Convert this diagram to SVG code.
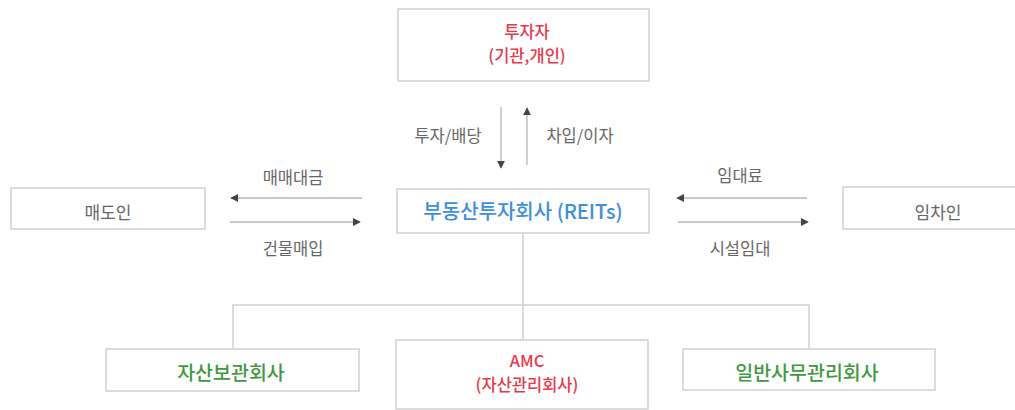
<svg xmlns="http://www.w3.org/2000/svg" width="1015" height="410" viewBox="0 0 1015 410">
  <style>
    .box { fill: #ffffff; stroke: #cfcfcf; stroke-width: 1.5; }
    .t { font-family: "Noto Sans CJK KR", "Noto Sans", sans-serif; text-anchor: middle; dominant-baseline: central; }
    .red { fill: #e8394c; font-size: 16.5px; font-weight: 500; }
    .blue { fill: #3d8fdc; font-size: 20px; font-weight: 500; }
    .green { fill: #3f9a3f; font-size: 19.5px; font-weight: 500; }
    .gray { fill: #666666; font-size: 17px; }
    .lbl { fill: #666666; font-size: 16.5px; }
    .conn { stroke: #b5b5b5; stroke-width: 1.3; fill: none; }
    .tree { stroke: #cfcfcf; stroke-width: 1.5; fill: none; }
  </style>
  <defs>
    <marker id="ah" viewBox="0 0 10 10" refX="9" refY="5" markerWidth="8" markerHeight="8" markerUnits="userSpaceOnUse" orient="auto">
      <path d="M0,0 L10,5 L0,10 Z" fill="#444444"/>
    </marker>
  </defs>
  <rect width="1015" height="410" fill="#ffffff"/>

  <g id="connectors">
    <line class="conn" x1="501" y1="107" x2="501" y2="168" marker-end="url(#ah)"/>
    <line class="conn" x1="527" y1="165" x2="527" y2="108" marker-end="url(#ah)"/>
    <line class="conn" x1="362" y1="198" x2="231" y2="198" marker-end="url(#ah)"/>
    <line class="conn" x1="230" y1="222" x2="360" y2="222" marker-end="url(#ah)"/>
    <line class="conn" x1="807" y1="198" x2="677" y2="198" marker-end="url(#ah)"/>
    <line class="conn" x1="678" y1="222" x2="808" y2="222" marker-end="url(#ah)"/>
    <line class="tree" x1="523" y1="233" x2="523" y2="340"/>
    <polyline class="tree" points="233,349 233,305 809,305 809,349"/>
    <text class="t lbl" x="448" y="135">투자/배당</text>
    <text class="t lbl" x="580" y="135">차입/이자</text>
    <text class="t lbl" x="293" y="177">매매대금</text>
    <text class="t lbl" x="293" y="248">건물매입</text>
    <text class="t lbl" x="740" y="175">임대료</text>
    <text class="t lbl" x="740" y="248">시설임대</text>
  </g>

  <g id="investor">
    <rect class="box" x="398" y="9" width="251" height="72"/>
    <text class="t red" x="527" y="31">투자자</text>
    <text class="t red" x="527" y="55">(기관,개인)</text>
  </g>

  <g id="reits">
    <rect class="box" x="397" y="189" width="252" height="44"/>
    <text class="t blue" x="523" y="210">부동산투자회사 (REITs)</text>
  </g>

  <g id="seller">
    <rect class="box" x="11" y="188" width="194" height="41"/>
    <text class="t gray" x="108" y="211">매도인</text>
  </g>

  <g id="tenant">
    <rect class="box" x="843" y="187" width="200" height="42"/>
    <text class="t gray" x="938" y="211">임차인</text>
  </g>

  <g id="custodian">
    <rect class="box" x="106" y="349" width="253" height="42"/>
    <text class="t green" x="231" y="371">자산보관회사</text>
  </g>

  <g id="amc">
    <rect class="box" x="396" y="340" width="252" height="69"/>
    <text class="t red" x="527" y="360">AMC</text>
    <text class="t red" x="527" y="384">(자산관리회사)</text>
  </g>

  <g id="admin">
    <rect class="box" x="683" y="349" width="252" height="41"/>
    <text class="t green" x="807" y="371">일반사무관리회사</text>
  </g>
</svg>
